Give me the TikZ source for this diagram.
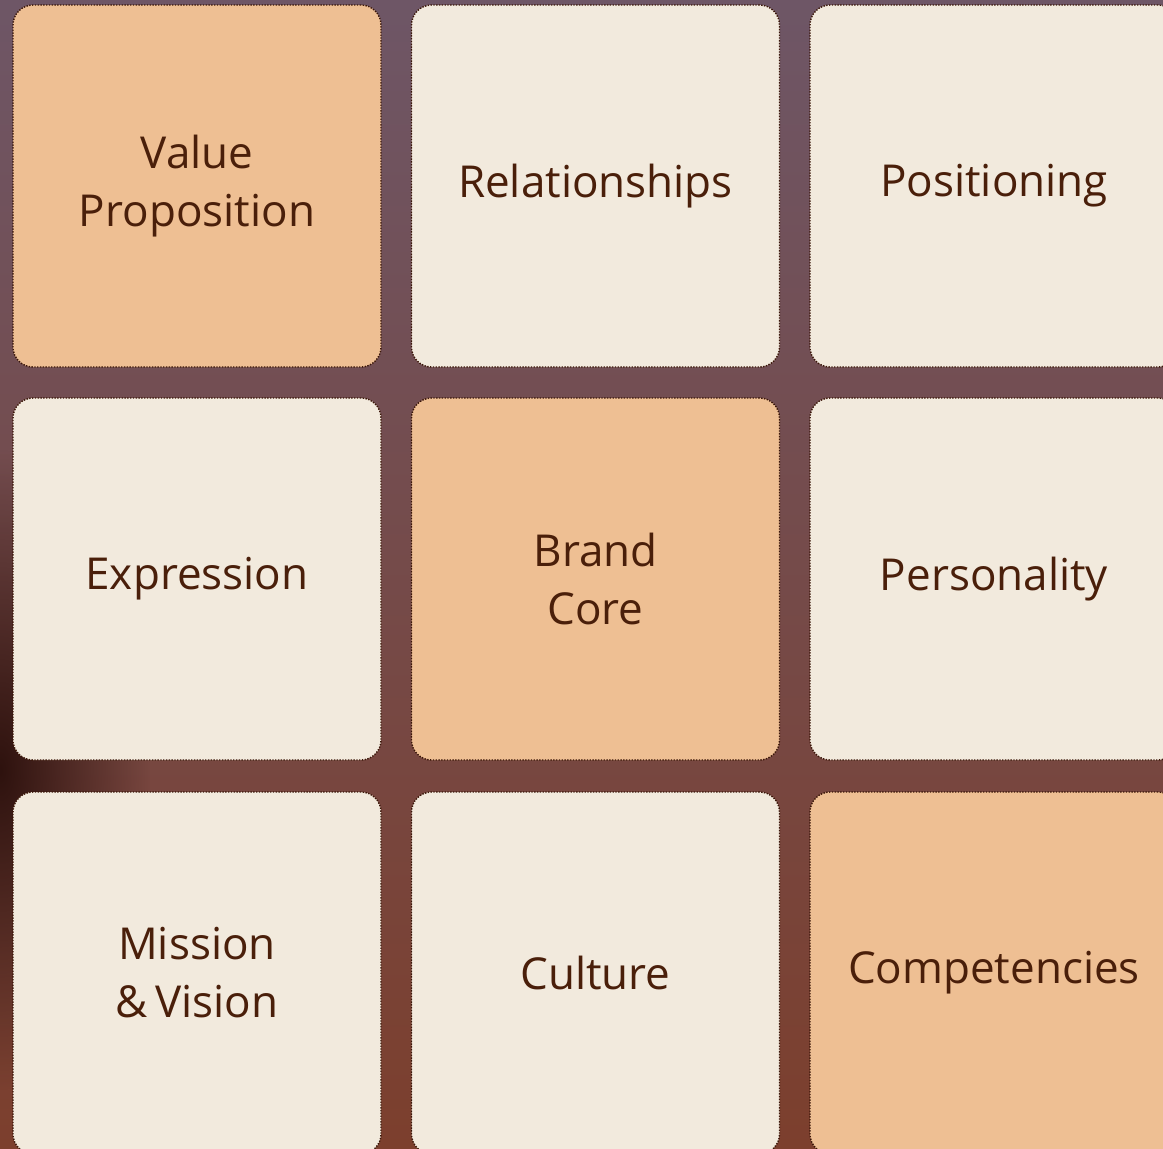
\documentclass[tikz,border=0pt]{standalone}
\usepackage{fontspec}
\setmainfont{Open Sans}
\usetikzlibrary{fadings}

\definecolor{peach}{HTML}{EEBF93}
\definecolor{cream}{HTML}{F2EADD}
\definecolor{ink}{HTML}{4A1F0A}
\definecolor{rim}{HTML}{3A1608}
\definecolor{bgtop}{HTML}{6E5666}
\definecolor{bgmid}{HTML}{663040}
\definecolor{bgbot}{HTML}{7C3F2D}
\definecolor{bgdark}{HTML}{2E120E}

\tikzfading[name=glow, inner color=transparent!0, outer color=transparent!100]

\tikzset{
    card/.style={draw=rim, line width=1.4pt, dash pattern=on 1.4pt off 1.4pt,
        rounded corners=20pt, minimum width=368pt, minimum height=362pt,
        inner sep=0pt, outer sep=0pt, align=center, text=ink,
        font=\fontsize{44}{58}\selectfont},
    hot/.style={card, fill=peach},
    cool/.style={card, fill=cream}
}

\begin{document}
\begin{tikzpicture}[x=1pt, y=-1pt]
        \useasboundingbox (0,0) rectangle (1163,1149);
        \clip (0,0) rectangle (1163,1149);

        \shade[top color=bgtop, middle color=bgmid, bottom color=bgbot] (0,0) rectangle (1163,1149); %backdrop
        \fill[bgdark, path fading=glow] (0,770) ellipse (150 and 320); %dark edge

        \node[hot]  (valueprop)    at (197,186)   {Value\\Proposition};
        \node[cool] (relations)    at (595.5,186) {Relationships};
        \node[cool] (positioning)  at (994,186)   {Positioning};

        \node[cool] (expression)   at (197,579)   {Expression};
        \node[hot]  (brandcore)    at (595.5,579) {Brand\\Core};
        \node[cool] (personality)  at (994,579)   {Personality};

        \node[cool] (mission)      at (197,973)   {Mission\\\&\,Vision};
        \node[cool] (culture)      at (595.5,973) {Culture};
        \node[hot]  (competencies) at (994,973)   {Competencies};
    \end{tikzpicture}
\end{document}
